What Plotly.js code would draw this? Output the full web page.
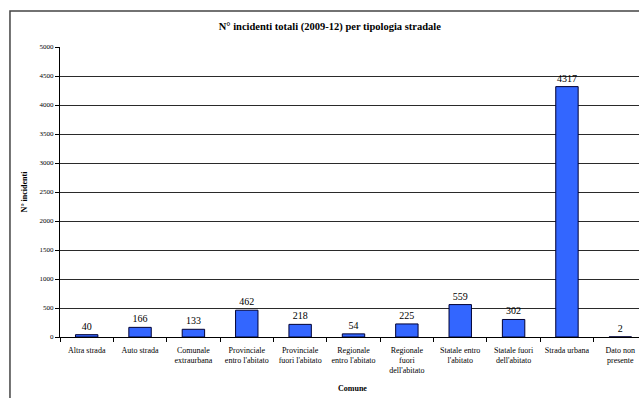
<!DOCTYPE html>
<html>
<head>
<meta charset="utf-8">
<script src="https://cdn.plot.ly/plotly-3.0.1.min.js"></script>
<style>
html,body{margin:0;padding:0;background:#fff;}
#chart{width:639px;height:398px;}
</style>
</head>
<body>
<div id="chart"></div>
<script>
const categories = [
  "Altra strada",
  "Auto strada",
  "Comunale<br>extraurbana",
  "Provinciale<br>entro l'abitato",
  "Provinciale<br>fuori l'abitato",
  "Regionale<br>entro l'abitato",
  "Regionale<br>fuori<br>dell'abitato",
  "Statale entro<br>l'abitato",
  "Statale fuori<br>dell'abitato",
  "Strada urbana",
  "Dato non<br>presente"
];
const incidenti = [40, 166, 133, 462, 218, 54, 225, 559, 302, 4317, 2];
const yTicks = [0, 500, 1000, 1500, 2000, 2500, 3000, 3500, 4000, 4500, 5000];

const serif = "Liberation Serif, Times New Roman, serif";

const trace = {
  type: 'bar',
  x: categories,
  y: incidenti,
  marker: {color: '#3366ff', line: {color: '#000033', width: 1}},
  text: incidenti.map(String),
  textposition: 'outside',
  textfont: {family: serif, size: 10, color: '#000'},
  cliponaxis: false,
  hoverinfo: 'x+y'
};

const layout = {
  width: 639, height: 398,
  margin: {l: 60, r: 0, t: 47, b: 61},
  paper_bgcolor: '#fff', plot_bgcolor: '#fff',
  showlegend: false,
  bargap: 0.58,
  font: {family: serif, color: '#000'},
  title: {
    text: "<b>N° incidenti totali (2009-12) per tipologia stradale</b>",
    font: {family: serif, size: 10.5, color: '#000'},
    x: 0.466, xref: 'paper', xanchor: 'center',
    y: 0.935, yref: 'container', yanchor: 'middle'
  },
  xaxis: {
    type: 'category',
    range: [-0.5, 10.35],
    tickson: 'boundaries',
    ticks: 'outside', ticklen: 4, tickcolor: '#000', tickwidth: 1,
    showline: true, linecolor: '#000', linewidth: 1,
    showgrid: false,
    tickangle: 0,
    ticklabelstandoff: 5,
    tickfont: {family: serif, size: 8, color: '#000'},
    automargin: false
  },
  yaxis: {
    range: [0, 5000],
    tickvals: yTicks,
    ticktext: yTicks.map(String),
    ticks: 'outside', ticklen: 4, tickcolor: '#000', tickwidth: 1,
    showline: true, linecolor: '#000', linewidth: 1,
    showgrid: true, gridcolor: '#2a2a2a', gridwidth: 1,
    zeroline: false,
    tickfont: {family: serif, size: 7, color: '#000'},
    title: {text: "<b>N° incidenti</b>", font: {family: serif, size: 8, color: '#000'}, standoff: 10},
    automargin: false
  },
  annotations: [{
    text: "<b>Comune</b>", xref: 'paper', yref: 'paper',
    x: 0.506, y: -0.176, xanchor: 'center', yanchor: 'middle',
    showarrow: false, font: {family: serif, size: 8, color: '#000'}
  }],
  shapes: [{
    type: 'rect', xref: 'paper', yref: 'paper',
    x0: -0.0864, x1: 1.3, y0: -0.5, y1: 1.124,
    line: {color: '#444', width: 1.5}, fillcolor: 'rgba(0,0,0,0)', layer: 'above'
  }]
};

Plotly.newPlot('chart', [trace], layout, {displayModeBar: false, staticPlot: true});
</script>
</body>
</html>
